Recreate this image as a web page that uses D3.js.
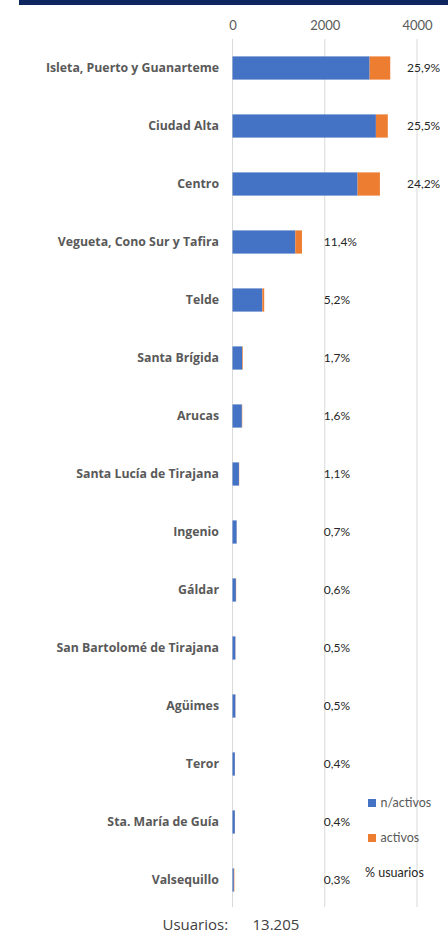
<!DOCTYPE html>
<html>
<head>
<meta charset="utf-8">
<script src="https://cdn.jsdelivr.net/npm/d3@7"></script>
<style>
  html, body { margin: 0; padding: 0; background: #ffffff; }
  svg { display: block; }
  text { font-family: Lato, "Open Sans", sans-serif; }
</style>
</head>
<body>
<svg id="chart" width="448" height="934"></svg>
<script>
const categories = [
  "Isleta, Puerto y Guanarteme", "Ciudad Alta", "Centro", "Vegueta, Cono Sur y Tafira",
  "Telde", "Santa Brígida", "Arucas", "Santa Lucía de Tirajana", "Ingenio", "Gáldar",
  "San Bartolomé de Tirajana", "Agüimes", "Teror", "Sta. María de Guía", "Valsequillo"
];
const nActivos = [2973, 3109, 2712, 1361, 646, 210, 203, 140, 90, 74, 63, 63, 51, 51, 30];
const activos  = [447, 258, 484, 145, 41, 14, 8, 5, 2, 5, 3, 3, 2, 2, 10];
const pctUsuarios = [25.9, 25.5, 24.2, 11.4, 5.2, 1.7, 1.6, 1.1, 0.7, 0.6, 0.5, 0.5, 0.4, 0.4, 0.3];
const xTicks = [0, 2000, 4000];
const seriesNames = ["n/activos", "activos"];
const totalUsuarios = "13.205";

const colors = { "n/activos": "#4472C4", "activos": "#ED7D31" };

const svg = d3.select("#chart");

// header bar
svg.append("rect").attr("x", 19).attr("y", 0).attr("width", 429).attr("height", 5).attr("fill", "#0E2660");

const x = d3.scaleLinear().domain([0, 4000]).range([232.5, 417]);
const y = d3.scaleBand().domain(categories).range([39, 909]).paddingInner(0.6).paddingOuter(0.3);

// gridlines
svg.append("g").selectAll("line").data(xTicks).join("line")
  .attr("x1", d => x(d)).attr("x2", d => x(d))
  .attr("y1", 39).attr("y2", 907)
  .attr("stroke", "#d9d9d9").attr("stroke-width", 1);

// top axis
const axis = svg.append("g").attr("transform", "translate(0,30)")
  .call(d3.axisTop(x).tickValues(xTicks).tickSize(0).tickPadding(0).tickFormat(d3.format("d")));
axis.select(".domain").remove();
axis.selectAll("text").attr("font-size", 13).attr("fill", "#595959")
  .style("font-family", "Lato, sans-serif");

// stacked data
const rows = categories.map((c, i) => ({ cat: c, "n/activos": nActivos[i], "activos": activos[i] }));
const stack = d3.stack().keys(seriesNames)(rows);

svg.append("g").selectAll("g").data(stack).join("g")
  .attr("fill", s => colors[s.key])
  .selectAll("rect").data(s => s).join("rect")
  .attr("x", d => x(d[0]))
  .attr("width", d => Math.max(0, x(d[1]) - x(d[0])))
  .attr("y", d => y(d.data.cat))
  .attr("height", y.bandwidth());

// category labels
svg.append("g").selectAll("text").data(categories).join("text")
  .attr("x", 219)
  .attr("y", d => y(d) + y.bandwidth() / 2)
  .attr("dy", "0.35em")
  .attr("text-anchor", "end")
  .attr("font-size", 12.3).attr("font-weight", "bold").attr("fill", "#595959")
  .style("font-family", "'Open Sans', sans-serif")
  .text(d => d);

// percentage labels
const fmt = v => d3.format(".1f")(v).replace(".", ",") + "%";
svg.append("g").selectAll("text").data(categories).join("text")
  .attr("x", (d, i) => (nActivos[i] + activos[i]) >= 2000 ? x(4000) - 10 : x(2000) - 1)
  .attr("y", d => y(d) + y.bandwidth() / 2)
  .attr("dy", "0.35em")
  .attr("font-size", 12).attr("fill", "#262626")
  .text((d, i) => fmt(pctUsuarios[i]));

// legend
const lg = svg.append("g");
seriesNames.forEach((k, i) => {
  const cy = 803 + i * 35;
  lg.append("rect").attr("x", 368).attr("y", cy - 4).attr("width", 8).attr("height", 8).attr("fill", colors[k]);
  lg.append("text").attr("x", 380.5).attr("y", cy).attr("dy", "0.35em")
    .attr("font-size", 12.5).attr("fill", "#595959").text(k);
});
lg.append("text").attr("x", 365).attr("y", 873).attr("dy", "0.35em")
  .attr("font-size", 12.5).attr("fill", "#262626").text("% usuarios");

// bottom total
svg.append("text").attr("x", 162.5).attr("y", 930).attr("font-size", 15).attr("fill", "#404040")
  .style("font-family", "'Open Sans', sans-serif").text("Usuarios:");
svg.append("text").attr("x", 252.5).attr("y", 930).attr("font-size", 15).attr("fill", "#404040")
  .style("font-family", "'Open Sans', sans-serif").text(totalUsuarios);
</script>
</body>
</html>
